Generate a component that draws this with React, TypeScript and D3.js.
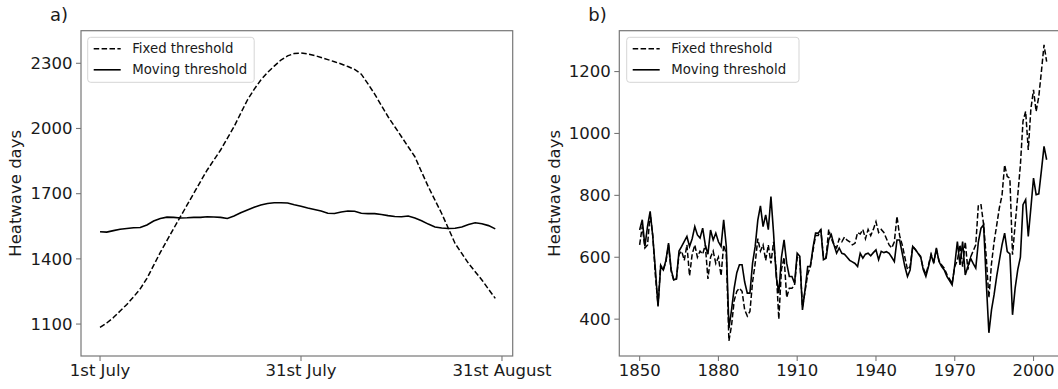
import React from "react";
import * as d3 from "d3";

// ---------- Panel a data (daily window index, 1st July .. end of August) ----------
const dayTickValues = [0, 30, 60];
const dayTickLabels = ["1st July", "31st July", "31st August"];
const fixedDaily = [
  1085, 1105, 1130, 1160, 1190, 1225, 1262, 1310, 1370, 1430,
  1485, 1540, 1594, 1648, 1702, 1756, 1809, 1855, 1901, 1955,
  2008, 2070, 2131, 2180, 2223, 2258, 2287, 2315, 2334, 2345,
  2347, 2343, 2336, 2327, 2317, 2307, 2297, 2285, 2272, 2250,
  2205, 2158, 2106, 2054, 2008, 1962, 1916, 1870, 1800, 1732,
  1670, 1609, 1540, 1471, 1425, 1379, 1341, 1303, 1260, 1218,
];
const movingDaily = [
  1525, 1523, 1530, 1536, 1540, 1543, 1544, 1556, 1574, 1586,
  1592, 1591, 1588, 1589, 1591, 1591, 1594, 1593, 1591, 1586,
  1597, 1612, 1625, 1637, 1648, 1655, 1658, 1658, 1657, 1649,
  1642, 1634, 1627, 1620, 1610, 1609, 1616, 1620, 1619, 1610,
  1608, 1608, 1604, 1599, 1595, 1594, 1597, 1588, 1575, 1560,
  1547, 1542, 1540, 1541, 1547, 1558, 1566, 1562, 1553, 1538,
];
const aYTicks = [1100, 1400, 1700, 2000, 2300];

// ---------- Panel b data (years 1850..2005) ----------
const firstYear = 1850;
const yearTicks = [1850, 1880, 1910, 1940, 1970, 2000];
const bYTicks = [400, 600, 800, 1000, 1200];
const movingYearly = [
  // 1850-1859
  688, 721, 635, 700, 748, 667, 560, 441, 570, 559,
  // 1860-1869
  590, 646, 560, 527, 530, 620, 635, 651, 667, 635,
  // 1870-1879
  660, 699, 672, 662, 694, 640, 610, 688, 656, 678,
  // 1880-1889
  650, 635, 721, 635, 371, 430, 500, 550, 576, 576,
  // 1890-1899
  520, 484, 484, 581, 635, 720, 766, 699, 737, 689,
  // 1900-1909
  796, 678, 538, 484, 600, 656, 581, 538, 538, 516,
  // 1910-1919
  613, 603, 430, 495, 570, 570, 630, 678, 678, 689,
  // 1920-1929
  592, 597, 656, 673, 640, 613, 630, 613, 610, 600,
  // 1930-1939
  590, 585, 580, 570, 613, 597, 610, 613, 605, 615,
  // 1940-1949
  624, 592, 619, 615, 618, 613, 600, 586, 656, 656,
  // 1950-1959
  613, 570, 538, 559, 635, 625, 613, 603, 560, 538,
  // 1960-1969
  570, 608, 581, 630, 586, 570, 559, 538, 525, 511,
  // 1970-1979
  575, 651, 575, 651, 543, 570, 597, 580, 565, 650,
  // 1980-1989
  694, 705, 520, 356, 430, 480, 540, 590, 640, 678,
  // 1990-1999
  618, 611, 414, 500, 560, 600, 770, 786, 667, 760,
  // 2000-2005
  856, 802, 805, 880, 958, 915,
];
const fixedYearly = [
  // 1850-1859
  640, 700, 630, 640, 740, 670, 540, 445, 575, 560,
  // 1860-1869
  585, 640, 555, 525, 530, 610, 620, 590, 640, 540,
  // 1870-1879
  610, 640, 600, 620, 610, 640, 530, 600, 620, 580,
  // 1880-1889
  600, 540, 640, 610, 330, 380, 460, 490, 500, 490,
  // 1890-1899
  430, 410, 425, 520, 580, 660, 620, 640, 590, 640,
  // 1900-1909
  580, 650, 560, 400, 560, 600, 470, 500, 500, 510,
  // 1910-1919
  600, 590, 440, 490, 545, 570, 620, 670, 670, 690,
  // 1920-1929
  600, 600, 690, 660, 640, 630, 660, 650, 665, 655,
  // 1930-1939
  650, 640, 645, 680, 675, 690, 660, 690, 670, 690,
  // 1940-1949
  715, 680, 690, 680, 660, 640, 630, 650, 732, 670,
  // 1950-1959
  640, 600, 560, 570, 635, 625, 613, 600, 565, 545,
  // 1960-1969
  575, 610, 585, 625, 590, 575, 565, 545, 530, 515,
  // 1970-1979
  570, 590, 640, 570, 650, 560, 600, 620, 640, 770,
  // 1980-1989
  770, 705, 600, 469, 580, 650, 705, 760, 800, 898,
  // 1990-1999
  861, 855, 608, 705, 800, 898, 1040, 1071, 947, 1080,
  // 2000-2005
  1141, 1071, 1119, 1200, 1286, 1232,
];

const seriesNames = ["Fixed threshold", "Moving threshold"];

const FONT = "DejaVu Sans, Liberation Sans, sans-serif";
const TEXT = "#1a1a1a";
const SPINE = "#777";
const DASH = "5.5,2.4";

type PanelProps = {
  label: string;
  xScale: d3.ScaleLinear<number, number>;
  yScale: d3.ScaleLinear<number, number>;
  xTicks: number[];
  xLabels: string[];
  yTicks: number[];
  fixedPts: [number, number][];
  movingPts: [number, number][];
  yLabelX: number;
  legendX: number;
  legendW: number;
};

function Panel(p: PanelProps) {
  const [x0, x1] = p.xScale.range();
  const [y0, y1] = p.yScale.range(); // y0 bottom, y1 top
  const line = d3
    .line<[number, number]>()
    .x((d) => p.xScale(d[0]))
    .y((d) => p.yScale(d[1]));
  const lx = p.legendX;
  const ly = 37.3;
  return (
    <g>
      {/* frame */}
      <rect x={x0} y={y1} width={x1 - x0} height={y0 - y1} fill="white" stroke={SPINE} strokeWidth={1.2} />
      {/* panel label */}
      <text x={x0 - 31} y={21} fontSize={18} fill={TEXT} fontFamily={FONT}>
        {p.label}
      </text>
      {/* y ticks */}
      {p.yTicks.map((t) => (
        <g key={"y" + t}>
          <line x1={x0 - 5} x2={x0} y1={p.yScale(t)} y2={p.yScale(t)} stroke={SPINE} strokeWidth={1.1} />
          <text x={x0 - 8.5} y={p.yScale(t)} dy="0.35em" textAnchor="end" fontSize={16.5} fill={TEXT} fontFamily={FONT}>
            {t}
          </text>
        </g>
      ))}
      {/* x ticks */}
      {p.xTicks.map((t, i) => (
        <g key={"x" + t}>
          <line x1={p.xScale(t)} x2={p.xScale(t)} y1={y0} y2={y0 + 5} stroke={SPINE} strokeWidth={1.1} />
          <text x={p.xScale(t)} y={376} textAnchor="middle" fontSize={16.5} fill={TEXT} fontFamily={FONT}>
            {p.xLabels[i]}
          </text>
        </g>
      ))}
      {/* y label */}
      <text
        transform={`translate(${p.yLabelX},${(y0 + y1) / 2}) rotate(-90)`}
        textAnchor="middle"
        dy="0.35em"
        fontSize={16.5}
        fill={TEXT}
        fontFamily={FONT}
      >
        Heatwave days
      </text>
      {/* lines */}
      <path d={line(p.fixedPts) || ""} fill="none" stroke="#000" strokeWidth={1.5} strokeDasharray={DASH} />
      <path d={line(p.movingPts) || ""} fill="none" stroke="#000" strokeWidth={1.6} />
      {/* legend */}
      <rect x={lx} y={ly} width={p.legendW} height={45} rx={3} fill="white" fillOpacity={0.85} stroke="#d5d5d5" strokeWidth={1} />
      <line x1={lx + 6} x2={lx + 33} y1={ly + 11.5} y2={ly + 11.5} stroke="#000" strokeWidth={1.5} strokeDasharray={DASH} />
      <line x1={lx + 6} x2={lx + 33} y1={ly + 32.5} y2={ly + 32.5} stroke="#000" strokeWidth={1.6} />
      <text x={lx + 44.5} y={ly + 11.5} dy="0.35em" fontSize={13.3} fill={TEXT} fontFamily={FONT}>
        {seriesNames[0]}
      </text>
      <text x={lx + 44.5} y={ly + 32.5} dy="0.35em" fontSize={13.3} fill={TEXT} fontFamily={FONT}>
        {seriesNames[1]}
      </text>
    </g>
  );
}

export default function App() {
  const W = 1058;
  const H = 389;

  const xa = d3.scaleLinear().domain([-2.84, 61.6]).range([81, 512.7]);
  const ya = d3.scaleLinear().domain([953, 2450]).range([356, 30.7]);
  const xb = d3.scaleLinear().domain([1842.25, 2012.75]).range([619.3, 1067]);
  const yb = d3.scaleLinear().domain([281, 1332]).range([356, 30.7]);

  const fixedA: [number, number][] = fixedDaily.map((v, i) => [i, v]);
  const movingA: [number, number][] = movingDaily.map((v, i) => [i, v]);
  const fixedB: [number, number][] = fixedYearly.map((v, i) => [firstYear + i, v]);
  const movingB: [number, number][] = movingYearly.map((v, i) => [firstYear + i, v]);

  return (
    <svg
      width={W}
      height={H}
      viewBox={`0 0 ${W} ${H}`}
      style={{ position: "absolute", left: 0, top: 0, background: "white" }}
    >
      <rect x={0} y={0} width={W} height={H} fill="white" />
      <Panel
        label="a)"
        xScale={xa}
        yScale={ya}
        xTicks={dayTickValues}
        xLabels={dayTickLabels}
        yTicks={aYTicks}
        fixedPts={fixedA}
        movingPts={movingA}
        yLabelX={15}
        legendX={87.7}
        legendW={166.5}
      />
      <Panel
        label="b)"
        xScale={xb}
        yScale={yb}
        xTicks={yearTicks}
        xLabels={yearTicks.map(String)}
        yTicks={bYTicks}
        fixedPts={fixedB}
        movingPts={movingB}
        yLabelX={554}
        legendX={626.7}
        legendW={172.3}
      />
    </svg>
  );
}
